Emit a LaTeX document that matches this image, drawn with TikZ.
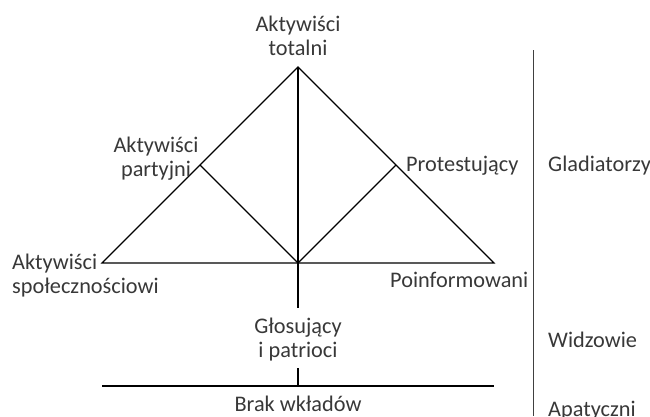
\documentclass[tikz,border=0pt]{standalone}
\usepackage{fontspec}
\setmainfont{Carlito}
\definecolor{textgray}{HTML}{383838}
\begin{document}
\begin{tikzpicture}[x=1pt,y=-1pt,
  txt/.style={inner sep=0pt, anchor=base, text=textgray, font=\fontsize{22.3}{24}\selectfont},
  txtw/.style={txt, anchor=base west},
  ln/.style={line width=1.1pt, draw=black}]
\useasboundingbox (0,0) rectangle (650,416);
% points
\coordinate (A) at (298,67);
\coordinate (L) at (102,263);
\coordinate (R) at (494,263);
\coordinate (C) at (298,263);
\coordinate (ML) at (200,165);
\coordinate (MR) at (396,165);
\coordinate (V1) at (298,308);
\coordinate (V2) at (298,368);
\coordinate (V3) at (298,386);
\coordinate (BL) at (102,386);
\coordinate (BR) at (494,386);
\coordinate (S1) at (533,50);
\coordinate (S2) at (533,416);
% lines
\draw[ln, line join=miter] (L) -- (A) -- (R) -- cycle;
\draw[ln] (A) -- (C) -- (V1);
\draw[ln] (ML) -- (C) -- (MR);
\draw[ln] (V2) -- (V3);
\draw[ln] (BL) -- (BR);
\draw[ln, line width=1pt, draw=black!75] (S1) -- (S2);
% labels
\node[txt] (t1) at (298,31) {Aktywiści};
\node[txt] (t2) at (298,55) {totalni};
\node[txt] (p1) at (156,152) {Aktywiści};
\node[txt] (p2) at (156,176) {partyjni};
\node[txtw] (pr) at (406,171) {Protestujący};
\node[txtw] (gl) at (548,171) {Gladiatorzy};
\node[txtw] (s1) at (12,269) {Aktywiści};
\node[txtw] (s2) at (12,293) {społecznościowi};
\node[txtw] (po) at (390,287) {Poinformowani};
\node[txt] (g1) at (298,333) {Głosujący};
\node[txt] (g2) at (298,357) {i patrioci};
\node[txtw] (wi) at (548,347) {Widzowie};
\node[txt] (br) at (298,411) {Brak wkładów};
\node[txtw] (ap) at (548,416) {Apatyczni};
\end{tikzpicture}
\end{document}
